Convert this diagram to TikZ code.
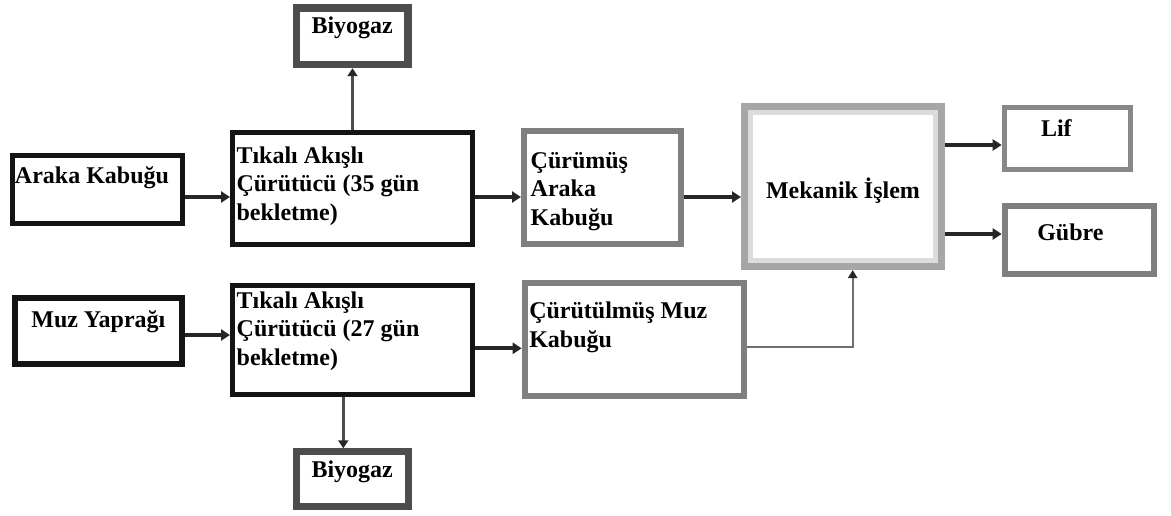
\documentclass[tikz,border=0pt]{standalone}
\usepackage{fontspec}
\setmainfont{Liberation Serif}
\usetikzlibrary{arrows.meta}
\definecolor{blackb}{HTML}{141414}
\definecolor{darkb}{HTML}{4D4D4D}
\definecolor{grayb}{HTML}{7F7F7F}
\definecolor{lifb}{HTML}{888888}
\definecolor{mekb}{HTML}{A6A6A6}
\definecolor{mekin}{HTML}{DCDCDC}
\definecolor{arrowc}{HTML}{262626}
\definecolor{thinc}{HTML}{707070}
\newcommand{\lft}[2]{\parbox[b]{#1}{\raggedright #2}}
\newcommand{\ctr}[2]{\parbox[b]{#1}{\centering #2}}
\begin{document}
\begin{tikzpicture}[x=1pt,y=-1pt,
  box/.style={draw, rectangle, anchor=north west, inner ysep=0pt,
    font=\bfseries\fontsize{24}{28.5}\selectfont},
  arr/.style={draw=arrowc, line width=3.8pt, -{Triangle[length=9pt,width=11pt]}},
  uparr/.style={draw=darkb, line width=3pt, -{Triangle[length=8pt,width=10pt,color=arrowc]}},
  thinarr/.style={draw=thinc, line width=2pt, -{Triangle[length=8pt,width=9pt,color=arrowc]}}]
\useasboundingbox (0,0) rectangle (1171,515);

% top biogas
\node[box, line width=7.5pt, draw=darkb, inner xsep=0pt, text height=25.5pt, text depth=31.2pt]
  (bio1) at (292.7,4) {\ctr{111.5pt}{Biyogaz}};
% Araka Kabugu
\node[box, line width=5pt, draw=blackb, inner xsep=2.5pt, text height=27.5pt, text depth=40.5pt]
  (araka) at (10,153) {\lft{165pt}{Araka Kabuğu}};
% digester 1
\node[box, line width=5pt, draw=blackb, inner xsep=4pt, text height=87.5pt, text depth=24.5pt]
  (tik1) at (230,130) {\lft{232pt}{Tıkalı Akışlı\\Çürütücü (35 gün\\bekletme)}};
% decomposed pea shell
\node[box, line width=6pt, draw=grayb, inner xsep=6.7pt, text height=93.7pt, text depth=18.7pt]
  (cur1) at (521,128.3) {\lft{143.6pt}{Çürümüş\\Araka\\Kabuğu}};
% mechanical processing
\node[box, line width=7pt, draw=mekb, inner xsep=0pt, text height=91.5pt, text depth=68.2pt]
  (mek) at (741,103.3) {\ctr{197pt}{Mekanik İşlem}};
\draw[mekin, line width=5pt] ([shift={(9.5,9.5)}]mek.north west) rectangle ([shift={(-9.5,-9.5)}]mek.south east);
% Lif
\node[box, line width=5pt, draw=lifb, inner xsep=36.8pt, text height=29.2pt, text depth=32.5pt]
  (lif) at (1001.7,105) {\lft{53pt}{Lif}};
% Gubre
\node[box, line width=6pt, draw=grayb, inner xsep=32.6pt, text height=34.4pt, text depth=33pt]
  (gubre) at (1001.7,203.3) {\lft{83.8pt}{Gübre}};
% Muz Yapragi
\node[box, line width=6pt, draw=blackb, inner xsep=4pt, text height=29pt, text depth=36.7pt]
  (muz) at (11.7,295) {\ctr{159.3pt}{Muz Yaprağı}};
% digester 2
\node[box, line width=5pt, draw=blackb, inner xsep=4.2pt, text height=79.8pt, text depth=29.8pt]
  (tik2) at (230,282.7) {\lft{231.6pt}{Tıkalı Akışlı\\Çürütücü (27 gün\\bekletme)}};
% decomposed banana
\node[box, line width=6pt, draw=grayb, inner xsep=4.6pt, text height=64.3pt, text depth=49pt]
  (cur2) at (521.7,280) {\lft{209.8pt}{Çürütülmüş Muz\\Kabuğu}};
% bottom biogas
\node[box, line width=7pt, draw=darkb, inner xsep=0pt, text height=25.5pt, text depth=29.2pt]
  (bio2) at (292.7,448.3) {\ctr{112pt}{Biyogaz}};

% connectors
\draw[arr] (araka.east |- 0,197) -- (tik1.west |- 0,197);
\draw[arr] (tik1.east |- 0,197) -- (cur1.west |- 0,197);
\draw[arr] (cur1.east |- 0,197) -- (mek.west |- 0,197);
\draw[uparr] (tik1.north) -- (tik1.north |- bio1.south);
\draw[arr] (mek.east |- 0,145) -- (lif.west |- 0,145);
\draw[arr] (mek.east |- 0,234) -- (gubre.west |- 0,234);
\draw[arr] (muz.east |- 0,335) -- (tik2.west |- 0,335);
\draw[arr] (tik2.east |- 0,348.3) -- (cur2.west |- 0,348.3);
\draw[thinarr] (cur2.east |- 0,346.7) -| ([xshift=9.7pt]mek.south);
\draw[uparr] ([xshift=-9.2pt]tik2.south) -- ([xshift=-9.2pt]tik2.south |- bio2.north);
\end{tikzpicture}
\end{document}
